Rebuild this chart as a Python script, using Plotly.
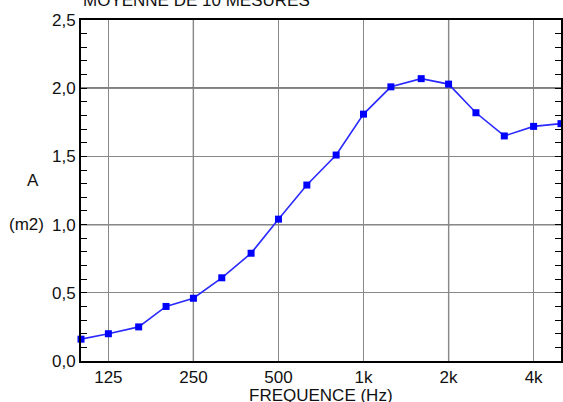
import plotly.graph_objects as go

# 1/3-octave centre frequencies (Hz) and mean absorption area A (m2)
freqs = [100, 125, 160, 200, 250, 315, 400, 500, 630, 800, 1000,
         1250, 1600, 2000, 2500, 3150, 4000, 5000]
area = [0.16, 0.20, 0.25, 0.40, 0.46, 0.61, 0.79, 1.04, 1.29, 1.51, 1.81,
        2.01, 2.07, 2.03, 1.82, 1.65, 1.72, 1.74]

x_ticks = [125, 250, 500, 1000, 2000, 4000]
x_labels = ["125", "250", "500", "1k", "2k", "4k"]
y_ticks = [0, 0.5, 1.0, 1.5, 2.0, 2.5]

# grid lines drawn darker than the others
x_dark = [250, 2000]
y_dark = [1.0, 2.0]

FONT = "Liberation Sans, Arial, sans-serif"

fig = go.Figure()

# darker grid lines (under the curve)
for xv in x_dark:
    fig.add_vline(x=xv, line=dict(color="black", width=1.2), layer="below")
for yv in y_dark:
    fig.add_hline(y=yv, line=dict(color="black", width=1.2), layer="below")

fig.add_trace(go.Scatter(
    x=freqs, y=area,
    mode="lines+markers",
    line=dict(color="#2a2aff", width=1.6),
    marker=dict(symbol="square", size=7, color="#0000ff"),
    showlegend=False,
    cliponaxis=False,
))

fig.update_layout(
    width=563, height=402,
    margin=dict(l=81, r=0, t=20, b=41),
    paper_bgcolor="white",
    plot_bgcolor="white",
    separators=", ",
    font=dict(family=FONT, size=17, color="#111"),
)

fig.update_xaxes(
    type="log",
    range=[2.0, 3.699],
    tickvals=x_ticks, ticktext=x_labels,
    showgrid=True, gridcolor="#888", gridwidth=1.2,
    showline=True, linecolor="black", linewidth=2, mirror=True,
    ticks="", zeroline=False,
    tickfont=dict(size=17),
)

fig.update_yaxes(
    range=[0, 2.5],
    tickvals=y_ticks, tickformat=".1f",
    showgrid=True, gridcolor="#888", gridwidth=1.2,
    showline=True, linecolor="black", linewidth=2, mirror="allticks",
    ticks="inside", ticklen=6, tickcolor="black",
    minor=dict(dtick=0.1, ticks="inside", ticklen=6, tickcolor="black",
               showgrid=False),
    zeroline=False,
    tickfont=dict(size=17),
)

# axis label pieces on the left
fig.add_annotation(text="A", xref="paper", yref="y", x=-0.101, y=1.32,
                   showarrow=False, xanchor="center", font=dict(size=17))
fig.add_annotation(text="(m2)", xref="paper", yref="y", x=-0.073, y=1.0,
                   showarrow=False, xanchor="right", font=dict(size=17))

# x axis title, partly cut at the bottom of the picture
fig.add_annotation(text="FREQUENCE (Hz)", xref="paper", yref="paper",
                   x=0.5, y=0.0, yshift=-23, xanchor="center", yanchor="top",
                   showarrow=False, font=dict(size=17))

# title partly cut at the top of the picture
fig.add_annotation(text="MOYENNE DE 10 MESURES", xref="paper", yref="paper",
                   x=0.0, y=1.0, yshift=8, xanchor="left", yanchor="bottom",
                   showarrow=False, font=dict(size=17))

fig.write_html("out.html", config={"displayModeBar": False},
               post_script="document.body.style.margin='0';")
